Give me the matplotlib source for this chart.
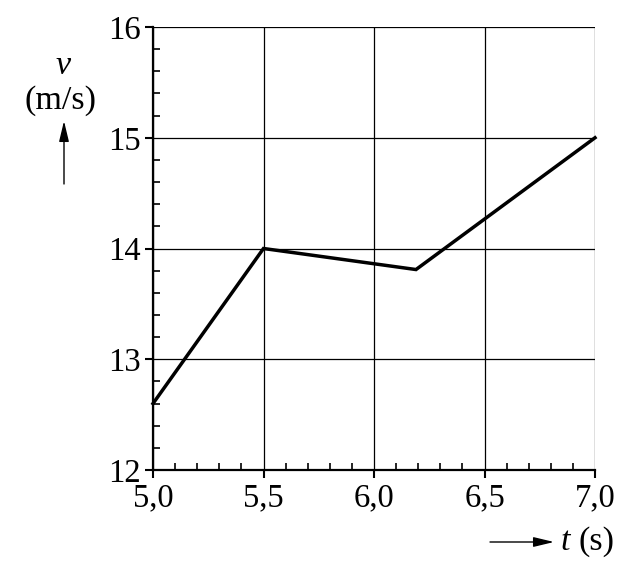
import matplotlib
matplotlib.use("Agg")
import matplotlib.pyplot as plt
from matplotlib.ticker import FixedLocator, MultipleLocator
from matplotlib.patches import FancyArrowPatch

t_vals = [5.0, 5.5, 6.19, 7.0]
v_vals = [12.6, 14.0, 13.81, 15.0]
x_ticks = [5.0, 5.5, 6.0, 6.5, 7.0]
x_labels = ["5,0", "5,5", "6,0", "6,5", "7,0"]
y_ticks = [12, 13, 14, 15, 16]
y_labels = ["12", "13", "14", "15", "16"]

plt.rcParams['font.family'] = ['Liberation Serif', 'DejaVu Serif']

fig = plt.figure(figsize=(6.42, 5.84), dpi=100)
ax = fig.add_axes([153/642, 1-470/584, 442/642, 443/584])

ax.plot(t_vals, v_vals, color='black', lw=2.5, solid_joinstyle='miter', zorder=3, clip_on=False)

ax.set_xlim(5.0, 7.0)
ax.set_ylim(12, 16)
ax.xaxis.set_major_locator(FixedLocator(x_ticks))
ax.yaxis.set_major_locator(FixedLocator(y_ticks))
ax.set_xticklabels(x_labels)
ax.set_yticklabels(y_labels)
ax.xaxis.set_minor_locator(MultipleLocator(0.1))
ax.yaxis.set_minor_locator(MultipleLocator(0.2))

ax.tick_params(which='major', direction='out', length=6, width=1.5, labelsize=23.5, pad=3, color='black')
ax.tick_params(which='minor', direction='in', length=5, width=1.2, color='black')

ax.grid(True, which='major', color='black', lw=0.9)
for s in ['top', 'right']:
    ax.spines[s].set_visible(False)
for s in ['left', 'bottom']:
    ax.spines[s].set_linewidth(1.6)

astyle = '-|>,head_length=1.25,head_width=0.3'

# y-axis label with arrow
fig.text(63/642, 1-66/584, "v", style='italic', fontsize=24.5, ha='center', va='center')
fig.text(61/642, 1-101/584, "(m/s)", fontsize=24.5, ha='center', va='center')
fig.add_artist(FancyArrowPatch((64/642, 1-184/584), (64/642, 1-121/584),
               transform=fig.transFigure, arrowstyle=astyle, mutation_scale=10,
               lw=1.0, color='black', shrinkA=0, shrinkB=0))

# x-axis label with arrow
fig.add_artist(FancyArrowPatch((490/642, 1-542/584), (554/642, 1-542/584),
               transform=fig.transFigure, arrowstyle=astyle, mutation_scale=10,
               lw=1.0, color='black', shrinkA=0, shrinkB=0))
fig.text(560/642, 1-542/584, "t", style='italic', fontsize=24.5, ha='left', va='center')
fig.text(578/642, 1-542/584, "(s)", fontsize=24.5, ha='left', va='center')

fig.savefig("out.png", dpi=100)
